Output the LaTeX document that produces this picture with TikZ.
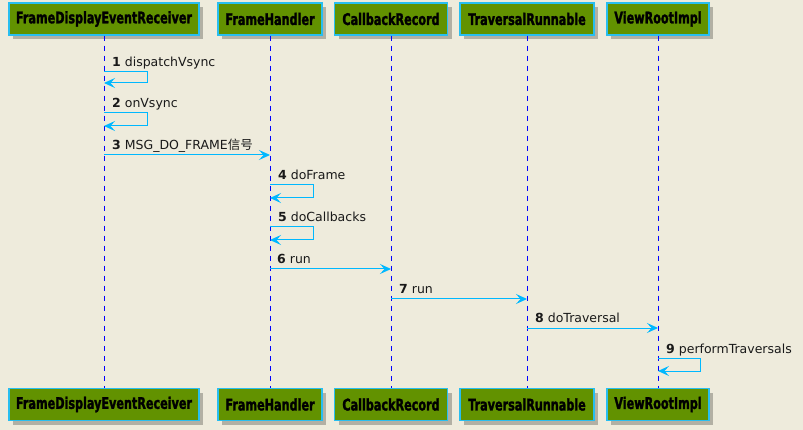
\documentclass[tikz,border=0pt]{standalone}
\usepackage{fontspec}
\setmainfont{DejaVu Sans}
\newfontfamily\boxfont{DejaVu Sans}[FakeStretch=0.7, BoldFeatures={FakeBold=1.6}]
\newfontfamily\cjk{Noto Sans CJK SC}
\usetikzlibrary{arrows.meta,shadows}
\definecolor{bgcol}{RGB}{238,235,220}
\definecolor{boxfill}{RGB}{98,146,0}
\definecolor{boxline}{RGB}{40,190,240}
\definecolor{arrcol}{RGB}{0,184,255}
\definecolor{lifecol}{RGB}{0,0,255}
\tikzset{
  actor/.style={draw=boxline, line width=1.5pt, fill=boxfill, minimum height=32pt,
    inner sep=0pt, font=\boxfont\bfseries\fontsize{16}{17}\selectfont, text=black,
    drop shadow={shadow xshift=4pt, shadow yshift=-4pt, fill=black, opacity=0.25}},
  lifeline/.style={draw=lifecol, line width=1pt, dash pattern=on 5pt off 5pt},
  arr/.style={draw=arrcol, line width=1pt, -{Stealth[length=11pt,width=10pt,inset=4.5pt]}},
  msg/.style={anchor=base west, inner sep=0pt, font=\fontsize{12.5}{14}\selectfont, text=black!90}
}
\begin{document}
\begin{tikzpicture}[x=1pt,y=-1pt]
\useasboundingbox[fill=bgcol] (0,0) rectangle (803,430);
% top actors
\node[actor, minimum width=190pt] (t1) at (104,19) {FrameDisplayEventReceiver};
\node[actor, minimum width=104pt] (t2) at (270,19) {FrameHandler};
\node[actor, minimum width=113pt] (t3) at (391,19) {CallbackRecord};
\node[actor, minimum width=134pt] (t4) at (527,19) {TraversalRunnable};
\node[actor, minimum width=102pt] (t5) at (658,19) {ViewRootImpl};
% bottom actors
\node[actor, minimum width=190pt] (b1) at (104,404.5) {FrameDisplayEventReceiver};
\node[actor, minimum width=104pt] (b2) at (270,404.5) {FrameHandler};
\node[actor, minimum width=113pt] (b3) at (391,404.5) {CallbackRecord};
\node[actor, minimum width=134pt] (b4) at (527,404.5) {TraversalRunnable};
\node[actor, minimum width=102pt] (b5) at (658,404.5) {ViewRootImpl};
% lifelines
\foreach \i in {1,...,5} { \draw[lifeline] (t\i.south) -- (b\i.north); }
% 1
\coordinate (a1) at (104,72); \coordinate (e1) at (104,83);
\draw[arr] (a1) -- ++(43,0) |- (e1);
\node[msg] (l1) at (112,67) {\textbf{1} dispatchVsync};
% 2
\coordinate (a2) at (104,113); \coordinate (e2) at (104,126);
\draw[arr] (a2) -- ++(43,0) |- (e2);
\node[msg] (l2) at (112,108) {\textbf{2} onVsync};
% 3
\coordinate (a3) at (104,155); \coordinate (e3) at (270,155);
\draw[arr] (a3) -- (e3);
\node[msg] (l3) at (112,150) {\textbf{3} MSG\_DO\_FRAME{\cjk 信号}};
% 4
\coordinate (a4) at (270,185); \coordinate (e4) at (270,198);
\draw[arr] (a4) -- ++(43,0) |- (e4);
\node[msg] (l4) at (278,180) {\textbf{4} doFrame};
% 5
\coordinate (a5) at (270,227); \coordinate (e5) at (270,240);
\draw[arr] (a5) -- ++(43,0) |- (e5);
\node[msg] (l5) at (278,222) {\textbf{5} doCallbacks};
% 6
\coordinate (a6) at (270,269); \coordinate (e6) at (391,269);
\draw[arr] (a6) -- (e6);
\node[msg] (l6) at (277,264) {\textbf{6} run};
% 7
\coordinate (a7) at (391,299); \coordinate (e7) at (527,299);
\draw[arr] (a7) -- (e7);
\node[msg] (l7) at (399,294) {\textbf{7} run};
% 8
\coordinate (a8) at (527,328); \coordinate (e8) at (658,328);
\draw[arr] (a8) -- (e8);
\node[msg] (l8) at (535,323) {\textbf{8} doTraversal};
% 9
\coordinate (a9) at (658,358); \coordinate (e9) at (658,371);
\draw[arr] (a9) -- ++(42,0) |- (e9);
\node[msg] (l9) at (666,353) {\textbf{9} performTraversals};
\end{tikzpicture}
\end{document}
